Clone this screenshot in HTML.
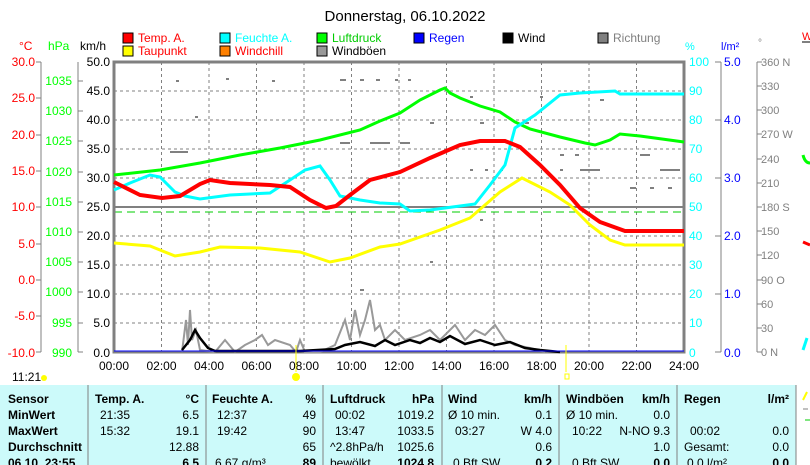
<!DOCTYPE html>
<html><head><meta charset="utf-8"><style>
body{margin:0;background:#fff;width:810px;height:465px;overflow:hidden;font-family:"Liberation Sans",sans-serif}
svg{position:absolute;left:0;top:0}
</style></head><body>
<svg width="810" height="465" viewBox="0 0 810 465" font-family="Liberation Sans, sans-serif" font-size="12">
<text x="405" y="21" text-anchor="middle" font-size="15">Donnerstag, 06.10.2022</text>
<g font-size="12">
<rect x="123" y="33" width="10" height="10" fill="#f00" stroke="#000"/><text x="138" y="42" fill="#f00">Temp. A.</text>
<rect x="123" y="46" width="10" height="10" fill="#ff0" stroke="#000"/><text x="138" y="55" fill="#f00">Taupunkt</text>
<rect x="220" y="33" width="10" height="10" fill="#0ff" stroke="#000"/><text x="235" y="42" fill="#0ff">Feuchte A.</text>
<rect x="220" y="46" width="10" height="10" fill="#ff8000" stroke="#000"/><text x="235" y="55" fill="#f00">Windchill</text>
<rect x="317" y="33" width="10" height="10" fill="#0f0" stroke="#000"/><text x="332" y="42" fill="#0c0">Luftdruck</text>
<rect x="317" y="46" width="10" height="10" fill="#999" stroke="#000"/><text x="332" y="55">Windböen</text>
<rect x="414" y="33" width="10" height="10" fill="#00f" stroke="#000"/><text x="429" y="42" fill="#00f">Regen</text>
<rect x="503" y="33" width="10" height="10" fill="#000" stroke="#000"/><text x="518" y="42">Wind</text>
<rect x="598" y="33" width="10" height="10" fill="#808080" stroke="#000"/><text x="613" y="42" fill="#808080">Richtung</text>
</g>
<text x="19" y="50" fill="#f00" font-size="12">°C</text>
<text x="48" y="50" fill="#0f0" font-size="12">hPa</text>
<text x="80" y="50" font-size="12">km/h</text>
<text x="685" y="50" fill="#0ff" font-size="11">%</text>
<text x="721" y="50" fill="#00f" font-size="11">l/m²</text>
<text x="758" y="46" fill="#808080" font-size="10">°</text>
<g stroke="#808080" stroke-width="1">
<line x1="41" y1="62" x2="41" y2="352"/><line x1="78" y1="62" x2="78" y2="352"/>
<line x1="721" y1="62" x2="721" y2="352"/><line x1="757" y1="62" x2="757" y2="352"/>
</g>
<g fill="#f00" text-anchor="end" font-size="12">
<text x="35" y="66">30.0</text><text x="35" y="102">25.0</text><text x="35" y="139">20.0</text><text x="35" y="175">15.0</text><text x="35" y="211">10.0</text><text x="35" y="248">5.0</text><text x="35" y="284">0.0</text><text x="35" y="320">-5.0</text><text x="35" y="357">-10.0</text>
</g>
<g stroke="#808080"><path d="M36 62h5M36 98h5M36 135h5M36 171h5M36 207h5M36 244h5M36 280h5M36 316h5M36 352h5"/></g>
<g fill="#0f0" text-anchor="end" font-size="12">
<text x="72" y="85">1035</text><text x="72" y="115">1030</text><text x="72" y="145">1025</text><text x="72" y="176">1020</text><text x="72" y="206">1015</text><text x="72" y="236">1010</text><text x="72" y="266">1005</text><text x="72" y="296">1000</text><text x="72" y="327">995</text><text x="72" y="357">990</text>
</g>
<g stroke="#808080"><path d="M78 81h5M78 111h5M78 141h5M78 172h5M78 202h5M78 232h5M78 262h5M78 292h5M78 323h5M78 352h5"/></g>
<g text-anchor="end" font-size="12">
<text x="110" y="66">50.0</text><text x="110" y="95">45.0</text><text x="110" y="124">40.0</text><text x="110" y="153">35.0</text><text x="110" y="182">30.0</text><text x="110" y="211">25.0</text><text x="110" y="240">20.0</text><text x="110" y="269">15.0</text><text x="110" y="298">10.0</text><text x="110" y="327">5.0</text><text x="110" y="357">0.0</text>
</g>
<g fill="#0ff" font-size="12">
<text x="689" y="66">100</text><text x="689" y="95">90</text><text x="689" y="124">80</text><text x="689" y="153">70</text><text x="689" y="182">60</text><text x="689" y="211">50</text><text x="689" y="240">40</text><text x="689" y="269">30</text><text x="689" y="298">20</text><text x="689" y="327">10</text><text x="689" y="357">0</text>
</g>
<g fill="#00f" font-size="12">
<text x="724" y="66">5.0</text><text x="724" y="124">4.0</text><text x="724" y="182">3.0</text><text x="724" y="240">2.0</text><text x="724" y="298">1.0</text><text x="724" y="357">0.0</text>
</g>
<g stroke="#808080"><path d="M715 62h6M715 120h6M715 178h6M715 236h6M715 294h6M715 352h6"/>
<path d="M757 62h5M757 86h5M757 110h5M757 134h5M757 159h5M757 183h5M757 207h5M757 231h5M757 255h5M757 280h5M757 304h5M757 328h5M757 352h5"/></g>
<g fill="#808080" font-size="11">
<text x="761" y="66">360 N</text><text x="761" y="90">330</text><text x="761" y="114">300</text><text x="761" y="138">270 W</text><text x="761" y="163">240</text><text x="761" y="187">210</text><text x="761" y="211">180 S</text><text x="761" y="235">150</text><text x="761" y="259">120</text><text x="761" y="284">90  O</text><text x="761" y="308">60</text><text x="761" y="332">30</text><text x="761" y="356">0   N</text>
</g>
<g stroke="#808080" stroke-dasharray="3,3">
<path d="M114 91h570M114 120h570M114 149h570M114 178h570M114 236h570M114 265h570M114 294h570M114 323h570"/>
<path d="M161.5 62v290M209 62v290M256.5 62v290M304 62v290M351.5 62v290M399 62v290M446.5 62v290M494 62v290M541.5 62v290M589 62v290M636.5 62v290"/>
</g>
<line x1="114" y1="207" x2="684" y2="207" stroke="#808080" stroke-width="2"/>
<line x1="114" y1="212" x2="684" y2="212" stroke="#0c0" stroke-dasharray="8,5"/>
<rect x="114" y="62" width="570" height="290" fill="none" stroke="#808080" stroke-width="3"/>
<g stroke="#808080" stroke-width="2">
<path d="M176 81h3M195 117h3M170 152h10M180 152h8M226 79h3M272 81h3M340 80h6M360 80h4M376 80h4M395 80h3M408 80h3M340 143h10M370 143h20M400 143h10M430 123h4M480 123h4M525 123h4M560 155h4M575 155h4M600 100h4M640 155h10M660 170h20M580 170h20M668 188h4M650 188h4M430 262h3M480 220h3M360 290h4M116 207h20M470 170h3M485 170h3M500 170h3M560 170h3M630 188h6M540 97h3M470 97h3"/>
</g>
<polyline fill="none" stroke="#999" stroke-width="2" points="182,352 186,320 188,345 190,310 192,340 196,330 200,350 215,352 225,340 235,352 245,345 255,340 262,335 268,345 275,340 290,345 296,352 300,340 305,352 320,352 335,345 345,320 350,340 355,310 360,335 365,320 370,300 375,330 380,325 385,340 395,330 405,340 420,335 430,330 440,340 455,325 465,340 475,330 485,335 495,325 505,340 515,345 530,348 545,352"/>
<polyline fill="none" stroke="#000" stroke-width="2.5" points="182,350 190,340 195,330 200,338 208,348 215,351 300,351 335,349 345,345 360,342 375,346 385,340 395,345 410,340 420,343 430,338 440,342 450,336 465,344 480,340 495,345 510,342 525,348 540,350 560,352"/>
<polyline fill="none" stroke="#0f0" stroke-width="3" points="114,175 160,170 200,163 240,155 280,148 320,140 360,130 380,121 400,113 420,100 440,90 445,88 450,93 460,98 480,106 500,112 515,122 530,129 560,137 585,143 595,145 610,140 620,134 640,136 684,142"/>
<polyline fill="none" stroke="#ff0" stroke-width="3" points="114,243 150,246 175,256 200,252 220,247 260,248 300,252 330,262 350,258 380,247 400,244 440,230 470,218 500,192 522,178 550,192 570,205 590,225 610,240 625,245 684,245"/>
<polyline fill="none" stroke="#0ff" stroke-width="3" points="114,190 130,183 150,175 160,177 175,192 185,196 200,199 230,195 270,193 290,180 305,170 320,166 330,180 340,196 360,200 380,203 400,204 410,211 430,210 460,206 475,204 490,185 505,165 515,128 535,115 560,95 580,93 615,91 620,94 684,94"/>
<polyline fill="none" stroke="#f00" stroke-width="4" points="114,182 140,195 162,198 180,196 200,184 210,180 230,183 270,185 290,187 310,200 326,208 336,206 350,195 370,180 400,172 430,158 460,145 480,141 505,141 520,147 540,165 560,185 580,208 600,222 625,231 684,231"/>
<line x1="114" y1="351" x2="684" y2="351" stroke="#00f" stroke-width="1"/>
<g font-size="12" text-anchor="middle">
<text x="114" y="370">00:00</text><text x="161.5" y="370">02:00</text><text x="209" y="370">04:00</text><text x="256.5" y="370">06:00</text><text x="304" y="370">08:00</text><text x="351.5" y="370">10:00</text><text x="399" y="370">12:00</text><text x="446.5" y="370">14:00</text><text x="494" y="370">16:00</text><text x="541.5" y="370">18:00</text><text x="589" y="370">20:00</text><text x="636.5" y="370">22:00</text><text x="684" y="370">24:00</text>
</g>
<text x="12" y="381" font-size="12">11:21</text>
<circle cx="44" cy="378" r="3" fill="#ff0"/>
<circle cx="296" cy="377" r="4" fill="#ff0"/>
<rect x="565" y="374" width="4" height="5" fill="none" stroke="#ff0"/>
<line x1="296" y1="345" x2="296" y2="372" stroke="#ff0"/>
<line x1="566" y1="345" x2="566" y2="372" stroke="#ff0"/>
<line x1="802" y1="42" x2="810" y2="42" stroke="#808080" stroke-width="2"/>
<text x="802" y="40" fill="#f00" font-size="11">W</text>
<path d="M803 155 q2 8 7 8" stroke="#0f0" stroke-width="3" fill="none"/>
<path d="M803 242 l7 3" stroke="#f00" stroke-width="3" fill="none"/>
<path d="M803 350 l4 -12" stroke="#0ff" stroke-width="3" fill="none"/>
<rect x="0" y="385" width="796" height="80" fill="#ccfafa"/>
<g stroke="#808080"><path d="M88 385v80M206 385v80M323 385v80M442 385v80M559 385v80M677 385v80M796 385v80"/></g>
<g font-size="12" font-weight="bold">
<text x="8" y="403">Sensor</text><text x="8" y="419">MinWert</text><text x="8" y="435">MaxWert</text><text x="8" y="451">Durchschnitt</text><text x="8" y="467">06.10. 23:55</text>
<text x="95" y="403">Temp. A.</text><text x="199" y="403" text-anchor="end">°C</text>
<text x="212" y="403">Feuchte A.</text><text x="316" y="403" text-anchor="end">%</text>
<text x="330" y="403">Luftdruck</text><text x="434" y="403" text-anchor="end">hPa</text>
<text x="448" y="403">Wind</text><text x="552" y="403" text-anchor="end">km/h</text>
<text x="566" y="403">Windböen</text><text x="670" y="403" text-anchor="end">km/h</text>
<text x="684" y="403">Regen</text><text x="789" y="403" text-anchor="end">l/m²</text>
<text x="199" y="467" text-anchor="end">6.5</text><text x="316" y="467" text-anchor="end">89</text><text x="434" y="467" text-anchor="end">1024.8</text><text x="552" y="467" text-anchor="end">0.2</text><text x="670" y="467" text-anchor="end">0.0</text><text x="789" y="467" text-anchor="end">0.0</text>
</g>
<g font-size="12">
<text x="100" y="419">21:35</text><text x="199" y="419" text-anchor="end">6.5</text>
<text x="100" y="435">15:32</text><text x="199" y="435" text-anchor="end">19.1</text>
<text x="199" y="451" text-anchor="end">12.88</text>
<text x="217" y="419">12:37</text><text x="316" y="419" text-anchor="end">49</text>
<text x="217" y="435">19:42</text><text x="316" y="435" text-anchor="end">90</text>
<text x="316" y="451" text-anchor="end">65</text>
<text x="215" y="467">6.67 g/m³</text>
<text x="335" y="419">00:02</text><text x="434" y="419" text-anchor="end">1019.2</text>
<text x="335" y="435">13:47</text><text x="434" y="435" text-anchor="end">1033.5</text>
<text x="330" y="451">^2.8hPa/h</text><text x="434" y="451" text-anchor="end">1025.6</text>
<text x="330" y="467">bewölkt</text>
<text x="448" y="419">Ø 10 min.</text><text x="552" y="419" text-anchor="end">0.1</text>
<text x="455" y="435">03:27</text><text x="552" y="435" text-anchor="end">W 4.0</text>
<text x="552" y="451" text-anchor="end">0.6</text>
<text x="453" y="467">0 Bft SW</text>
<text x="566" y="419">Ø 10 min.</text><text x="670" y="419" text-anchor="end">0.0</text>
<text x="572" y="435">10:22</text><text x="670" y="435" text-anchor="end">N-NO 9.3</text>
<text x="670" y="451" text-anchor="end">1.0</text>
<text x="572" y="467">0 Bft SW</text>
<text x="690" y="435">00:02</text><text x="789" y="435" text-anchor="end">0.0</text>
<text x="684" y="451">Gesamt:</text><text x="789" y="451" text-anchor="end">0.0</text>
<text x="687" y="467">0.0 l/m²</text>
</g>
<path d="M803 400 l4 -8" stroke="#ff0" stroke-width="2"/>
<line x1="803" y1="409" x2="808" y2="409" stroke="#808080"/>
<line x1="805" y1="420" x2="810" y2="420" stroke="#0c0"/>
</svg>
</body></html>
